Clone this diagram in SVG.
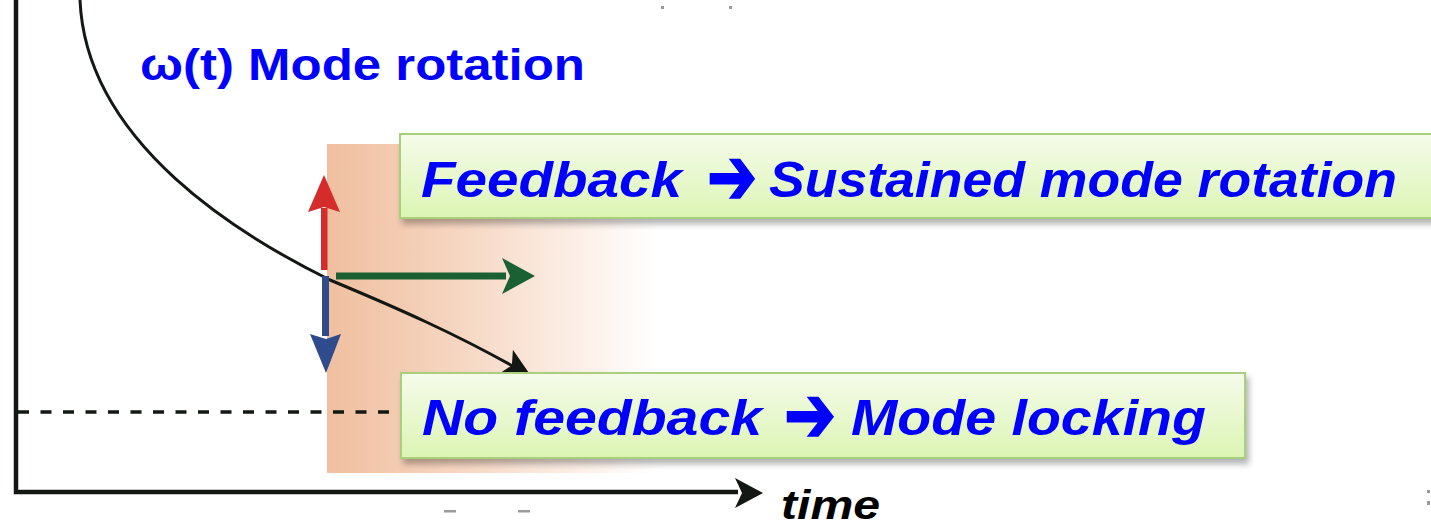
<svg xmlns="http://www.w3.org/2000/svg" width="1431" height="525" viewBox="0 0 1431 525">
  <style>
    .axis { stroke: #141814; stroke-width: 4.5; fill: none; }
    .curve { stroke: #141814; stroke-width: 3; fill: none; }
    .dash { stroke: #141814; stroke-width: 3.5; stroke-dasharray: 11 11.5; fill: none; }
    .box { stroke: #a9cf7c; stroke-width: 2; fill: url(#boxFill); filter: url(#shadow); }
    .label { font-family: "Liberation Sans", "DejaVu Sans", sans-serif; font-weight: bold; font-style: italic; fill: #0000ff; }
    .arrow { font-family: "DejaVu Sans", sans-serif; font-weight: bold; fill: #0000ff; stroke: #0000ff; stroke-width: 2; stroke-linejoin: miter; }
    .title { font-family: "Liberation Sans", "DejaVu Sans", sans-serif; font-weight: bold; fill: #0000ff; }
    .axislabel { font-family: "Liberation Sans", "DejaVu Sans", sans-serif; font-weight: bold; font-style: italic; fill: #000; }
    .stray { fill: #9a9a9a; }
  </style>
  <defs>
    <linearGradient id="peach" x1="0" y1="0" x2="1" y2="0">
      <stop offset="0" stop-color="#f0bf9f"/>
      <stop offset="0.35" stop-color="#f5d3bd"/>
      <stop offset="0.7" stop-color="#fbebe1"/>
      <stop offset="1" stop-color="#ffffff"/>
    </linearGradient>
    <linearGradient id="boxFill" x1="0" y1="0" x2="0" y2="1">
      <stop offset="0" stop-color="#f5fbea"/>
      <stop offset="1" stop-color="#dcf5b4"/>
    </linearGradient>
    <filter id="shadow" x="-5%" y="-20%" width="110%" height="150%">
      <feDropShadow dx="3" dy="5" stdDeviation="3" flood-color="#000" flood-opacity="0.3"/>
    </filter>
    <marker id="headBlack" markerUnits="userSpaceOnUse" viewBox="0 0 30 30" refX="28" refY="15" markerWidth="30" markerHeight="30" orient="auto">
      <path d="M0,1 L30,15 L0,29 L7,15 Z" fill="#141814"/>
    </marker>
  </defs>

  <!-- shaded transition region -->
  <rect x="327" y="144" width="330" height="329" fill="url(#peach)"/>

  <!-- stray marks at the edges -->
  <g id="stray-marks">
    <rect class="stray" x="661" y="6" width="3" height="3"/>
    <rect class="stray" x="729" y="6" width="3" height="3"/>
    <rect class="stray" x="444" y="510" width="12" height="2.5"/>
    <rect class="stray" x="518" y="510" width="12" height="2.5"/>
    <rect class="stray" x="1427" y="490" width="3" height="3"/>
    <rect class="stray" x="1427" y="501" width="3" height="4"/>
  </g>

  <g id="connectors">
    <!-- axes -->
    <path class="axis" d="M16,0 V492 H738"/>
    <path d="M735,478 L763,493 L735,508 L742,493 Z" fill="#141814"/>
    <!-- locking threshold -->
    <path class="dash" d="M18,412 H392"/>
    <!-- frequency decay curve -->
    <path class="curve" d="M80,0 C86,145 245,238 330,280 C390,305 460,335 530,376" marker-end="url(#headBlack)"/>
    <!-- red: increase -->
    <rect x="321" y="208" width="6.5" height="62" fill="#d52b2b"/>
    <path d="M324,175 L340,212 L324,207 L308,212 Z" fill="#d52b2b"/>
    <!-- blue: decrease -->
    <rect x="322" y="276" width="7" height="60" fill="#2f4b8c"/>
    <path d="M326,373 L341,334 L326,339 L310,334 Z" fill="#2f4b8c"/>
    <!-- green: sustained -->
    <rect x="336" y="272.5" width="170" height="7" fill="#1a6032"/>
    <path d="M535,276 L502,258 L510,276 L502,294 Z" fill="#1a6032"/>
  </g>

  <g id="title">
    <text class="title" x="140" y="80" font-size="44" textLength="445" lengthAdjust="spacingAndGlyphs">ω(t) Mode rotation</text>
  </g>

  <g id="node-feedback">
    <rect class="box" x="400" y="134" width="1040" height="84"/>
    <text class="label" x="421" y="197" font-size="50" textLength="261" lengthAdjust="spacingAndGlyphs">Feedback</text>
    <text class="arrow" x="707" y="204" font-size="80" textLength="50" lengthAdjust="spacingAndGlyphs">➔</text>
    <text class="label" x="769" y="197" font-size="50" textLength="628" lengthAdjust="spacingAndGlyphs">Sustained mode rotation</text>
  </g>

  <g id="node-nofeedback">
    <rect class="box" x="401" y="373" width="844" height="85"/>
    <text class="label" x="422" y="435" font-size="50" textLength="340" lengthAdjust="spacingAndGlyphs">No feedback</text>
    <text class="arrow" x="784" y="442" font-size="80" textLength="52" lengthAdjust="spacingAndGlyphs">➔</text>
    <text class="label" x="851" y="435" font-size="50" textLength="355" lengthAdjust="spacingAndGlyphs">Mode locking</text>
  </g>

  <g id="axis-label">
    <text class="axislabel" x="781" y="519" font-size="40" textLength="99" lengthAdjust="spacingAndGlyphs">time</text>
  </g>
</svg>
